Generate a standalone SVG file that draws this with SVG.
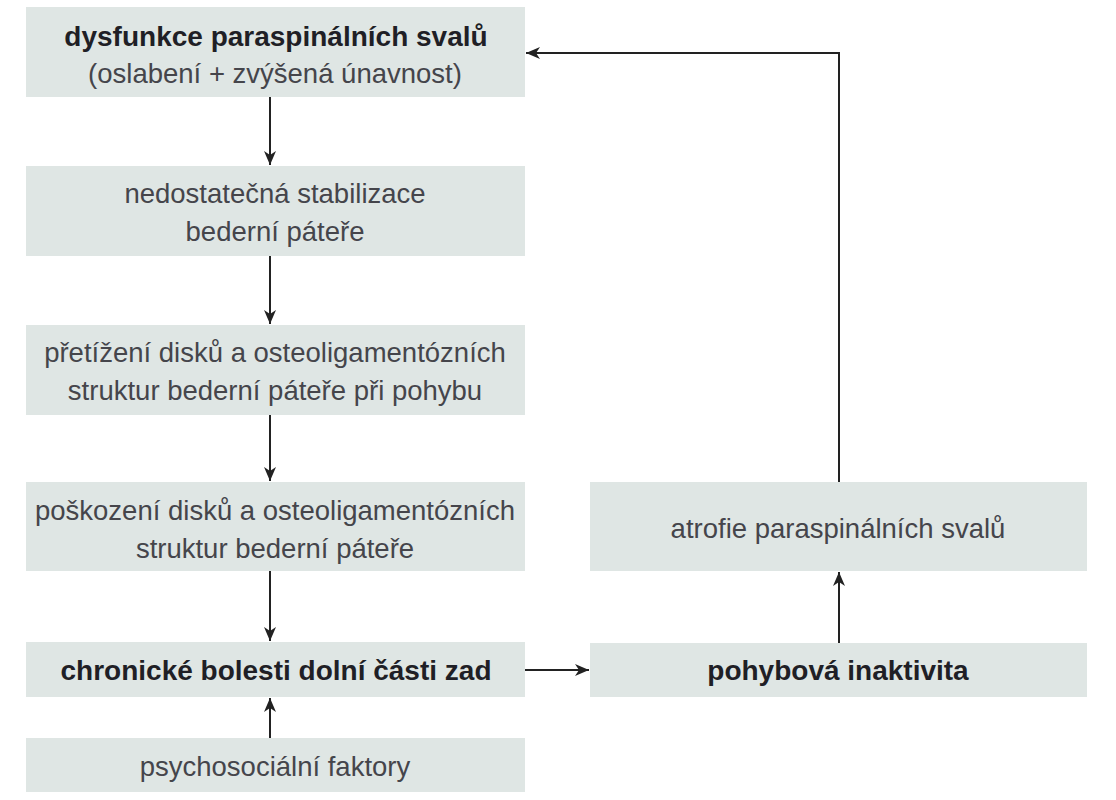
<svg xmlns="http://www.w3.org/2000/svg" width="1116" height="800" viewBox="0 0 1116 800">
<defs>
<style>
.box{fill:#dfe6e4;}
.t{font-family:"Liberation Sans","Noto Sans",sans-serif;font-size:27.5px;fill:#45454b;text-anchor:middle;}
.b{font-family:"Liberation Sans","Noto Sans",sans-serif;font-size:28px;font-weight:bold;fill:#1f1f26;text-anchor:middle;}
.c{stroke:#222;stroke-width:2;fill:none;}
</style>
<marker id="ah" viewBox="0 0 14 12" refX="14" refY="6" markerWidth="14" markerHeight="12" markerUnits="userSpaceOnUse" orient="auto">
<path d="M0,0 L14,6 L0,12 L4,6 Z" fill="#222"/>
</marker>
</defs>
<rect width="1116" height="800" fill="#fff"/>
<g id="n1"><rect class="box" x="26" y="7" width="499" height="90"/>
<text class="b" x="276" y="46">dysfunkce paraspinálních svalů</text>
<text class="t" x="275" y="83">(oslabení + zvýšená únavnost)</text></g>
<g id="n2"><rect class="box" x="26" y="166" width="499" height="90"/>
<text class="t" x="275" y="203">nedostatečná stabilizace</text>
<text class="t" x="275" y="241">bederní páteře</text></g>
<g id="n3"><rect class="box" x="26" y="325" width="499" height="90"/>
<text class="t" x="275" y="362">přetížení disků a osteoligamentózních</text>
<text class="t" x="275" y="400">struktur bederní páteře při pohybu</text></g>
<g id="n4"><rect class="box" x="26" y="482" width="499" height="89"/>
<text class="t" x="275" y="520">poškození disků a osteoligamentózních</text>
<text class="t" x="275" y="558">struktur bederní páteře</text></g>
<g id="n5"><rect class="box" x="26" y="642" width="499" height="55"/>
<text class="b" x="276" y="680">chronické bolesti dolní části zad</text></g>
<g id="n6"><rect class="box" x="26" y="738" width="499" height="54"/>
<text class="t" x="275" y="776">psychosociální faktory</text></g>
<g id="n7"><rect class="box" x="590" y="482" width="497" height="89"/>
<text class="t" x="838" y="538">atrofie paraspinálních svalů</text></g>
<g id="n8"><rect class="box" x="590" y="643" width="497" height="54"/>
<text class="b" x="838" y="680">pohybová inaktivita</text></g>
<g id="connectors">
<path class="c" d="M270,97 V165" marker-end="url(#ah)"/>
<path class="c" d="M270,256 V324" marker-end="url(#ah)"/>
<path class="c" d="M270,415 V481" marker-end="url(#ah)"/>
<path class="c" d="M270,571 V641" marker-end="url(#ah)"/>
<path class="c" d="M270,738 V698" marker-end="url(#ah)"/>
<path class="c" d="M525,670 H589" marker-end="url(#ah)"/>
<path class="c" d="M839,643 V572" marker-end="url(#ah)"/>
<path class="c" d="M839,482 V53 H526" marker-end="url(#ah)"/>
</g>
</svg>
